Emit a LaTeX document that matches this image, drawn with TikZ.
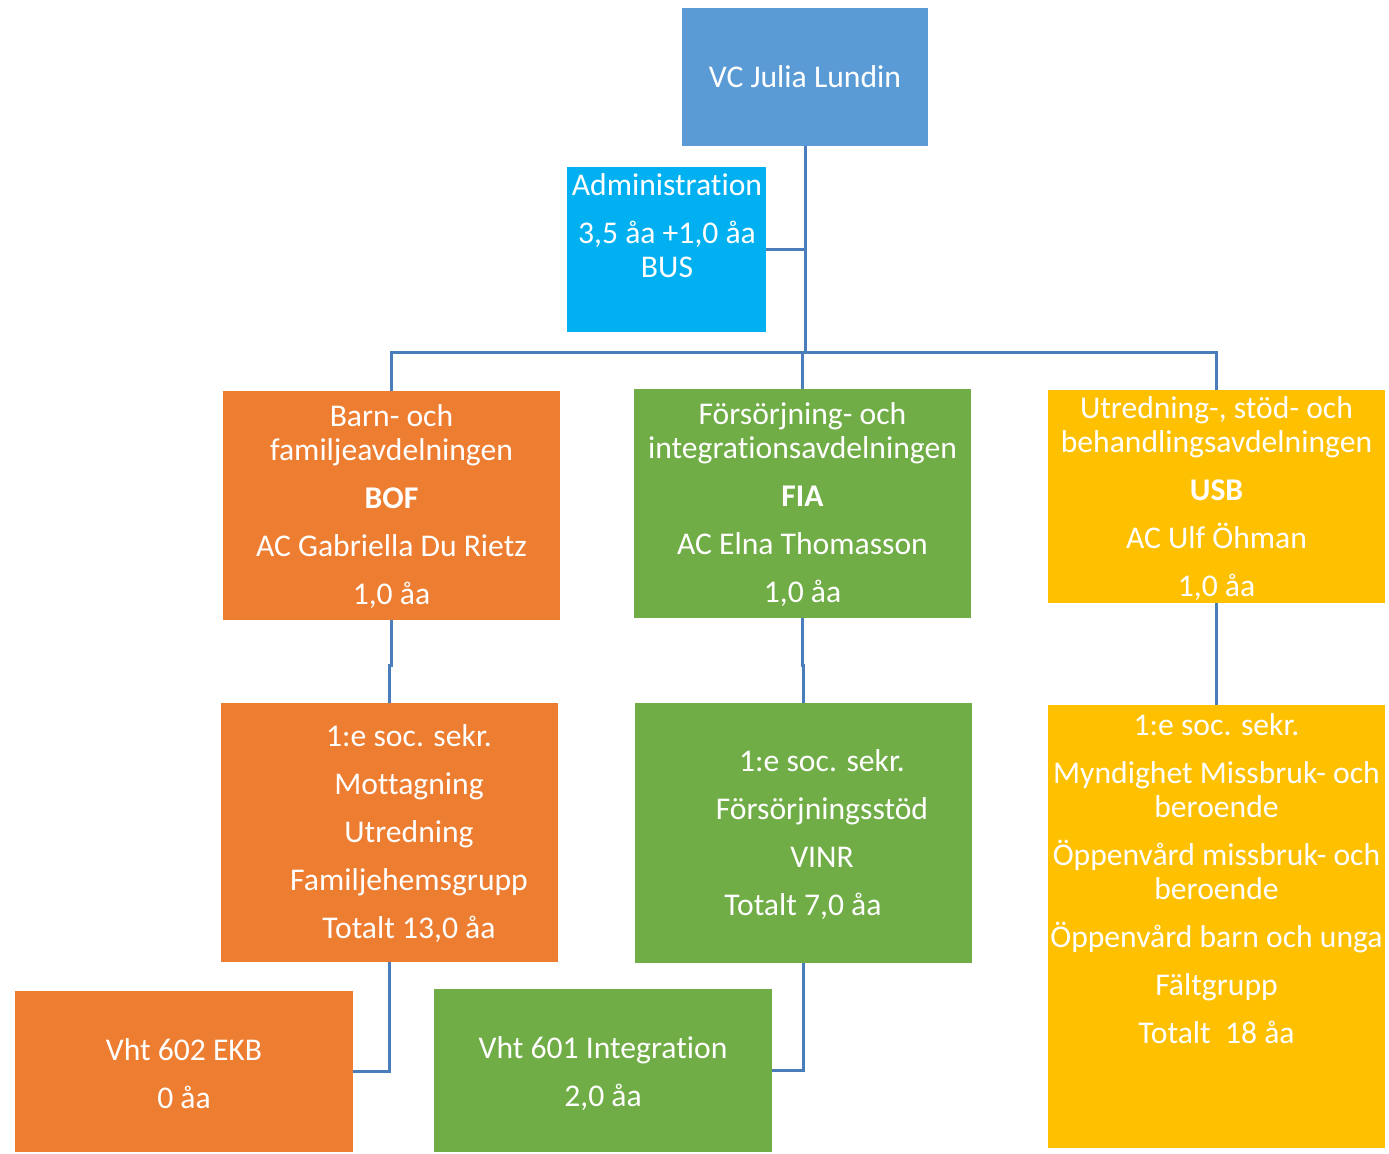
\documentclass[tikz,border=0pt]{standalone}
\usepackage{fontspec}
\setmainfont{Carlito}[Ligatures=CommonOff]
\usetikzlibrary{fit}
\definecolor{vcblue}{HTML}{5B9BD5}
\definecolor{admblue}{HTML}{00B0F0}
\definecolor{boforange}{HTML}{ED7D31}
\definecolor{fiagreen}{HTML}{70AD47}
\definecolor{usbyellow}{HTML}{FFC000}
\definecolor{linkblue}{HTML}{4A7EBB}
\newcommand\pargap{\\[0.28cm]}

\begin{document}
\begin{tikzpicture}[x=0.02cm,y=-0.02cm,
                      unit box/.style={inner sep=0pt,outer sep=0pt},
                      unit text/.style={text=white,align=center,anchor=base,inner sep=0pt,
                                        font=\fontsize{18}{19.3}\selectfont},
                      link/.style={draw=linkblue,line width=1.7pt}]
  \useasboundingbox (0,0) rectangle (1389,1153);

        % boxes
        \node[unit box,fill=vcblue,fit={(682,8) (928,146)}] (vc) {};
        \node[unit box,fill=admblue,fit={(567,167) (766,332)}] (adm) {};
        \node[unit box,fill=boforange,fit={(223,391) (560,620)}] (bof) {};
        \node[unit box,fill=fiagreen,fit={(634,389) (971,618)}] (fia) {};
        \node[unit box,fill=usbyellow,fit={(1048,390) (1385,603)}] (usb) {};
        \node[unit box,fill=boforange,fit={(221,703) (558,962)}] (bofsub) {};
        \node[unit box,fill=fiagreen,fit={(635,703) (972,963)}] (fiasub) {};
        \node[unit box,fill=usbyellow,fit={(1048,705) (1385,1148)}] (usbsub) {};
        \node[unit box,fill=boforange,fit={(15,991) (353,1152)}] (ekb) {};
        \node[unit box,fill=fiagreen,fit={(434,989) (772,1152)}] (integ) {};

        % texts (placed at the baseline of their last line)
        \node[unit text] (vc text) at (805,87) {VC Julia Lundin};
        \node[unit text] (adm text) at (667,277) {Administration\pargap 3,5 åa +1,0 åa\\BUS};
        \node[unit text] (bof text) at (391.5,604)
          {Barn- och\\familjeavdelningen\pargap\textbf{BOF}\pargap AC Gabriella Du Rietz\pargap 1,0 åa};
        \node[unit text] (fia text) at (802.5,602)
          {Försörjning- och\\integrationsavdelningen\pargap\textbf{FIA}\pargap AC Elna Thomasson\pargap 1,0 åa};
        \node[unit text] (usb text) at (1216.5,596)
          {Utredning-, stöd- och\\behandlingsavdelningen\pargap\textbf{USB}\pargap AC Ulf Öhman\pargap 1,0 åa};
        \node[unit text] (bofsub text) at (409,938)
          {1:e soc. sekr.\pargap Mottagning\pargap Utredning\pargap Familjehemsgrupp\pargap Totalt 13,0 åa};
        \node[unit text] (fiasub text) at (822,915)
          {1:e soc. sekr.\pargap Försörjningsstöd\pargap VINR\pargap\hspace*{-0.76cm}Totalt 7,0 åa};
        \node[unit text] (usbsub text) at (1216.5,1043)
          {1:e soc. sekr.\pargap Myndighet Missbruk- och\\beroende\pargap Öppenvård missbruk- och\\beroende\pargap
           Öppenvård barn och unga\pargap Fältgrupp\pargap Totalt\ \ 18 åa};
        \node[unit text] (ekb text) at (184,1108) {Vht 602 EKB\pargap 0 åa};
        \node[unit text] (integ text) at (603,1106) {Vht 601 Integration\pargap 2,0 åa};

        % connectors
        \coordinate (hub) at (805,352);
        \draw[link] (vc.south) -- (hub);
        \draw[link] (adm.east) -- (adm.east -| hub);
        \draw[link] (bof.north) |- (hub) -| (usb.north);
        \draw[link] (fia.north) -- (fia.north |- hub);
        \draw[link] (bof.south) -- ++(0,45) -| (bofsub.north);
        \draw[link] (fia.south) -- ++(0,47) -| (fiasub.north);
        \draw[link] (usb.south) -- (usbsub.north);
        \draw[link] (bofsub.south) |- (ekb.east);
        \draw[link] (fiasub.south) |- (integ.east);
    \end{tikzpicture}
\end{document}
